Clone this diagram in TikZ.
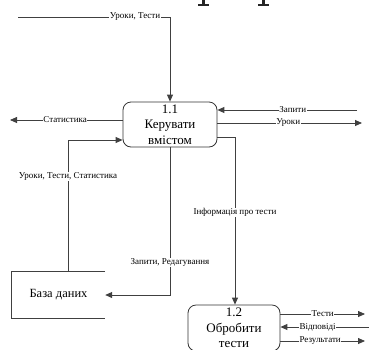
\documentclass[tikz,border=0pt]{standalone}
\usepackage{fontspec}
\setmainfont{Liberation Serif}
\usetikzlibrary{arrows.meta}
\begin{document}
\begin{tikzpicture}[x=1pt,y=-1pt,
  proc/.style={draw=black!80, line width=0.8pt, rounded corners=8pt,
    minimum width=94pt, minimum height=45pt, inner sep=0pt, align=center,
    font=\fontsize{13}{15.5}\selectfont},
  store/.style={minimum width=93pt, minimum height=46pt, inner sep=0pt,
    font=\fontsize{12.5}{14}\selectfont},
  wire/.style={draw=black!75, line width=0.85pt},
  flow/.style={wire, -{Triangle[length=7pt,width=6pt]}},
  lbl/.style={fill=white, inner sep=0.6pt, text=black,
    font=\fontsize{9}{10}\selectfont},
  glyph/.style={fill=black!85}
]
\useasboundingbox (0,0) rectangle (369,349);

% foot ends of large letters running off the top edge
\fill[glyph] (202,0) rectangle (205,4.5);
\fill[glyph] (198,4) rectangle (209,5.5);
\fill[glyph] (262,0) rectangle (265,4.5);
\fill[glyph] (258,4) rectangle (269,5.5);

% processes and data store
\node[proc] (p11) at (170,124.5) {1.1\\Керувати\\вмістом};
\node[proc, minimum width=92pt, minimum height=46pt] (p12) at (234,328) {1.2\\Обробити\\тести};
\node[store] (db) at (58.5,295) {База даних};
\draw[wire] (db.north east) -- (db.north west) -- (db.south west) -- (db.south east);

% free ends of external flows
\coordinate (topIn) at (18,17);
\coordinate (statOut) at (10,120);
\coordinate (reqIn) at (357,110);
\coordinate (lessOut) at (362,123);
\coordinate (dbTurn) at (68,140);
\coordinate (infoTurn) at (235,137);
\coordinate (testsOut) at (365,314);
\coordinate (ansIn) at (369,327);
\coordinate (resOut) at (365,341);

% flows around process 1.1
\draw[flow] (topIn) -- node[lbl, pos=0.77] (tTop) {Уроки, Тести} (topIn -| p11.north) -- (p11.north);
\draw[flow] (p11.west |- statOut) -- node[lbl, pos=0.51] (tStat) {Статистика} (statOut);
\draw[flow] (reqIn) -- node[lbl, pos=0.46] (tReq) {Запити} (p11.east |- reqIn);
\draw[flow] (p11.east |- lessOut) -- node[lbl, pos=0.49] (tLess) {Уроки} (lessOut);
\draw[flow] (db.north -| dbTurn) -- node[lbl, pos=0.72] (tDb) {Уроки, Тести, Статистика} (dbTurn) -- (p11.west |- dbTurn);
\draw[flow] (p11.south) -- node[lbl, pos=0.78] (tEdit) {Запити, Редагування} (p11.south |- db.east) -- (db.east);
\draw[flow] (p11.east |- infoTurn) -- (infoTurn) -- node[lbl, pos=0.45] (tInfo) {Інформація про тести} (p12.north -| infoTurn);

% flows around process 1.2
\draw[flow] (p12.east |- testsOut) -- node[lbl, pos=0.5] (tTests) {Тести} (testsOut);
\draw[flow] (ansIn) -- node[lbl, pos=0.58] (tAns) {Відповіді} (p12.east |- ansIn);
\draw[flow] (p12.east |- resOut) -- node[lbl, pos=0.47] (tRes) {Результати} (resOut);
\end{tikzpicture}
\end{document}
